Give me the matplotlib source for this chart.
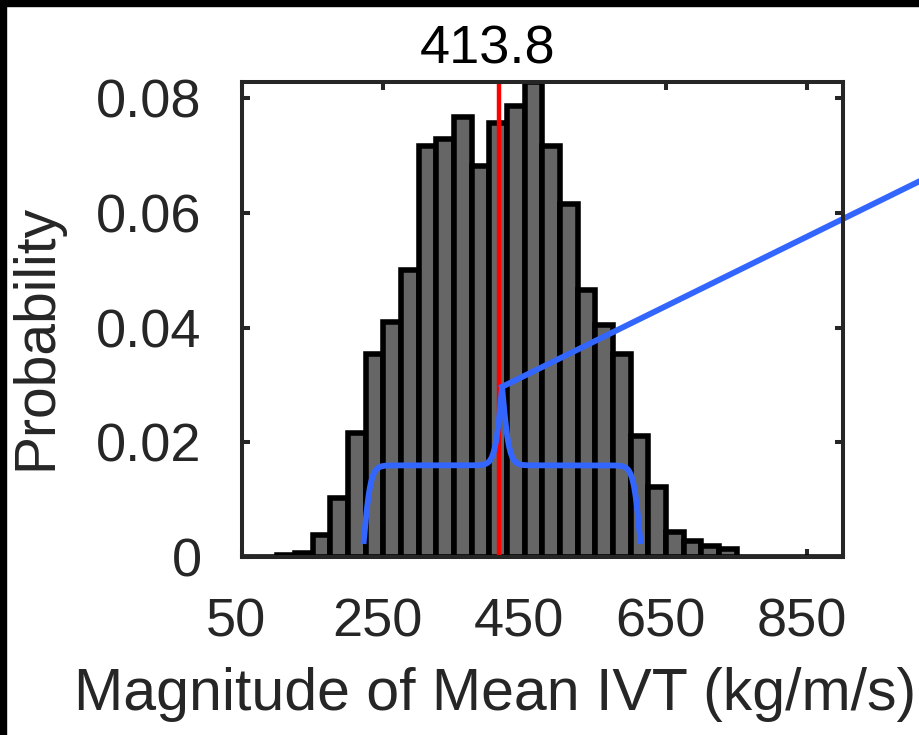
import numpy as np
import matplotlib
matplotlib.use("Agg")
import matplotlib.pyplot as plt
from matplotlib.patches import Rectangle
from matplotlib.transforms import ScaledTranslation

plt.rcParams['font.family'] = ['Liberation Sans', 'DejaVu Sans']

# histogram: bin edges (kg/m/s) and probabilities
bin_edges = np.arange(50, 901, 25)
probs = [0, 0, 0.0003, 0.0007, 0.0038, 0.0103, 0.0216, 0.0355, 0.0410, 0.0500,
         0.0717, 0.0729, 0.0768, 0.0682, 0.0757, 0.0787, 0.0828, 0.0717, 0.0616,
         0.0465, 0.0405, 0.0355, 0.0212, 0.0123, 0.0043, 0.0029, 0.0020, 0.0015,
         0, 0, 0, 0, 0, 0]

mean_ivt = 413.8
label_x = 397.5

# curly brace + connector line
brace_left, brace_right = 222, 614
brace_base, brace_rise = 0.0023, 0.0137
brace_beta = 0.2
connector_end = [1100, 0.0711]

xticks = [50, 250, 450, 650, 850]
yticks = [0, 0.02, 0.04, 0.06, 0.08]

fig = plt.figure(figsize=(9.2, 7.35), dpi=100)
ax = fig.add_axes([0.263, 0.242, 0.653, 0.646])

ax.bar(bin_edges[:-1], probs, width=25, align='edge', color='#666666',
       edgecolor='black', linewidth=4, zorder=2)
ax.plot([mean_ivt, mean_ivt], [0, 1], color='red', lw=3.2, zorder=3)

# brace built from two sigmoids per half
half = (brace_right - brace_left) / 2
xh = np.linspace(0, half, 400)
yh = 1 / (1 + np.exp(-brace_beta * xh)) + 1 / (1 + np.exp(-brace_beta * (xh - half)))
bx = np.concatenate([brace_left + xh, brace_left + half + xh])
by = np.concatenate([yh, yh[::-1]])
by = brace_base + (by - 0.5) / 0.5 * brace_rise
ax.plot(bx, by, color='#3366ff', lw=4.2, zorder=4, solid_capstyle='butt')
tip_x = brace_left + half
tip_y = by.max()
ax.plot([tip_x, connector_end[0]], [tip_y, connector_end[1]], color='#3366ff',
        lw=4.2, zorder=4, clip_on=False)

ax.set_xlim(50, 900)
ax.set_ylim(0, 0.0828)
ax.set_xticks(xticks)
ax.set_yticks(yticks)
ax.set_yticklabels(['0', '0.02', '0.04', '0.06', '0.08'])

for s in ax.spines.values():
    s.set_linewidth(2.9)
    s.set_color('#262626')
    s.set_zorder(5)
ax.tick_params(direction='in', length=6, width=2.9, color='#262626',
               labelsize=39, labelcolor='#262626', top=True, right=True, pad=29)
shift = ScaledTranslation(-6 / 100, 0, fig.dpi_scale_trans)
for lab in ax.get_xticklabels():
    lab.set_transform(lab.get_transform() + shift)

ax.set_xlabel('Magnitude of Mean IVT (kg/m/s)', fontsize=42.5, color='#262626')
ax.set_ylabel('Probability', fontsize=41, color='#262626')
ax.xaxis.set_label_coords(0.421, -0.232)
ax.yaxis.set_label_coords(-0.298, 0.463)

ax.text(label_x, 1.04, '413.8', transform=ax.get_xaxis_transform(),
        ha='center', va='baseline', fontsize=39, color='black')

# partial black frame at top and left edges
fig.add_artist(Rectangle((0, 1 - 6 / 735), 1, 6 / 735, transform=fig.transFigure,
                         color='black', zorder=10))
fig.add_artist(Rectangle((0, 0), 6 / 920, 1, transform=fig.transFigure,
                         color='black', zorder=10))

fig.savefig('out.png', dpi=100)
